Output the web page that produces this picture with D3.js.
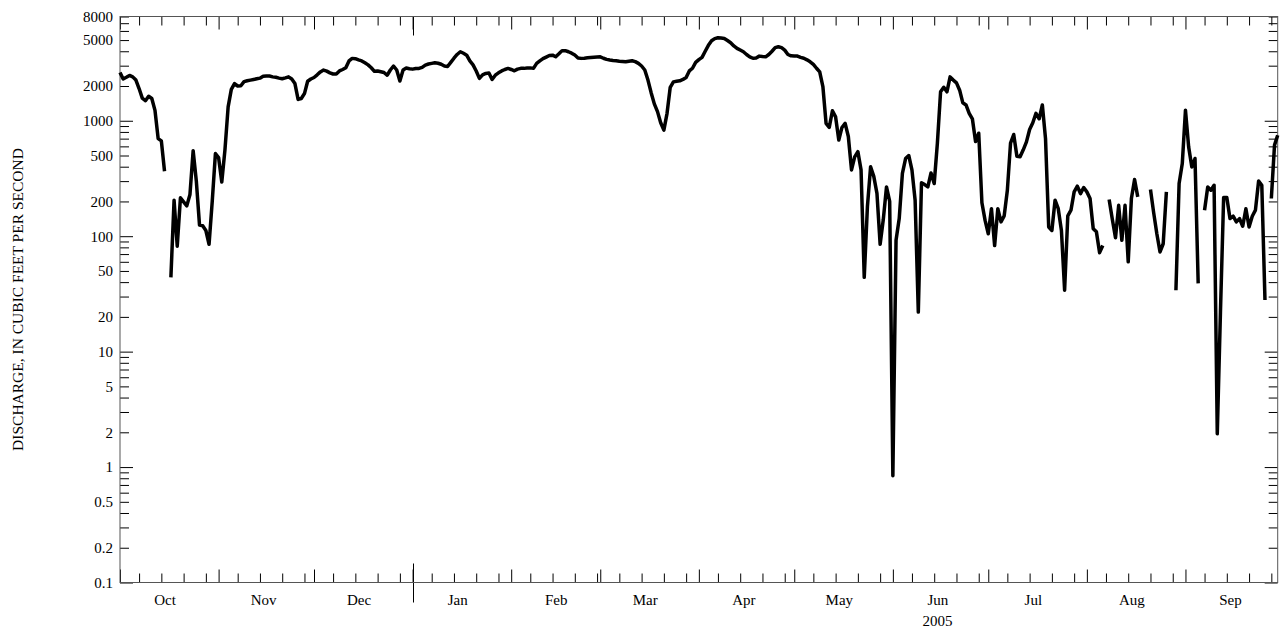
<!DOCTYPE html>
<html>
<head>
<meta charset="utf-8">
<script src="https://cdn.jsdelivr.net/npm/d3@7"></script>
<style>
  body { margin: 0; background: #fff; }
  svg { display: block; }
</style>
</head>
<body>
<svg id="chart" width="1283" height="635"></svg>
<script>
// Daily mean discharge, water year Oct 2004 - Sep 2005 (null = no record)
const startDate = Date.UTC(2004, 9, 1);
const endDate = Date.UTC(2005, 8, 30);

const octQ = [2620, 2300, 2380, 2470, 2400, 2250, 1900, 1570, 1490, 1630, 1560, 1230, 700, 670, 365, null,
  44, 205, 82, 215, 198, 183, 230, 550, 300, 125, 123, 112, 85, 200, 520];
const novQ = [480, 295, 560, 1320, 1870, 2100, 2000, 2010, 2180, 2220, 2250, 2280, 2310, 2340, 2430,
  2440, 2440, 2400, 2380, 2340, 2310, 2350, 2400, 2300, 2100, 1530, 1560, 1720, 2200, 2300];
const decQ = [2370, 2500, 2650, 2750, 2690, 2600, 2540, 2540, 2700, 2780, 2880, 3300, 3470, 3450, 3370,
  3300, 3180, 3050, 2880, 2680, 2700, 2660, 2620, 2480, 2750, 2980, 2750, 2210, 2750, 2860, 2820];
const janQ = [2800, 2840, 2840, 2900, 3035, 3100, 3140, 3180, 3150, 3085, 2980, 2950, 3200, 3480, 3750,
  3960, 3840, 3700, 3300, 3050, 2700, 2330, 2500, 2570, 2590, 2280, 2480, 2600, 2700, 2780, 2840];
const febQ = [2780, 2710, 2800, 2843, 2843, 2860, 2870, 2843, 3140, 3300, 3450, 3560, 3680, 3700,
  3580, 3800, 4050, 4050, 3960, 3850, 3710, 3500, 3470, 3480, 3510, 3530, 3550, 3570];
const marQ = [3580, 3480, 3400, 3360, 3330, 3310, 3280, 3260, 3243, 3280, 3309, 3250, 3140, 2980, 2750,
  2250, 1750, 1400, 1200, 960, 830, 1160, 1950, 2170, 2200, 2220, 2280, 2370, 2700, 2850, 3200];
const aprQ = [3380, 3540, 4000, 4500, 4930, 5150, 5240, 5200, 5150, 4950, 4740, 4450, 4240, 4100, 3960,
  3750, 3580, 3480, 3500, 3630, 3600, 3580, 3750, 4000, 4300, 4380, 4300, 4090, 3750, 3650];
const mayQ = [3640, 3630, 3540, 3480, 3370, 3240, 3080, 2850, 2650, 1980, 950, 875, 1220, 1080, 680,
  875, 950, 730, 375, 487, 540, 375, 44, 180, 400, 330, 235, 85, 140, 267, 200];
const junQ = [0.84, 92, 142, 350, 470, 500, 375, 205, 22, 290, 280, 267, 353, 286, 640,
  1780, 1950, 1780, 2400, 2250, 2130, 1840, 1430, 1370, 1160, 1040, 660, 780, 195, 137];
const julQ = [105, 173, 83, 173, 133, 150, 250, 640, 760, 493, 487, 560, 656, 840, 960,
  1160, 1040, 1370, 700, 120, 112, 205, 173, 112, 34, 150, 168, 242, 271, 234, 264];
const augQ = [242, 212, 116, 109, 72, 83, null, 208, 140, 97, 185, 92, 185, 60, 212,
  310, 219, null, null, null, 254, 160, 105, 73, 86, 242, null, null, 34, 286, 426];
const sepQ = [1236, 594, 398, 471, 39, null, 168, 267, 250, 276, 1.94, 22, 216, 216, 142,
  149, 133, 142, 122, 173, 120, 149, 168, 301, 276, 28, null, 212, 615, 750];

const monthLabels = ["Oct", "Nov", "Dec", "Jan", "Feb", "Mar", "Apr", "May", "Jun", "Jul", "Aug", "Sep"];
const yTickLabels = [0.1, 0.2, 0.5, 1, 2, 5, 10, 20, 50, 100, 200, 500, 1000, 2000, 5000, 8000];
const yearLabel = "2005";
const yTitle = "DISCHARGE, IN CUBIC FEET PER SECOND";

const daily = [octQ, novQ, decQ, janQ, febQ, marQ, aprQ, mayQ, junQ, julQ, augQ, sepQ]
  .flat()
  .map((v, i) => ({ date: d3.utcDay.offset(new Date(startDate), i), v }));

const FONT = "'Liberation Serif', 'Times New Roman', Times, serif";
const L = 120, R = 1277.7, T = 16.5, B = 582.5;

const svg = d3.select("#chart");

const x = d3.scaleUtc().domain([new Date(startDate), new Date(endDate)]).range([L, R]);
const y = d3.scaleLog().domain([0.1, 8000]).range([B, T]);

// tick sets
const decades = [0.1, 1, 10, 100, 1000];
const minorY = [];
for (let e = -1; e <= 3; e++) {
  for (let k = 2; k <= 9; k++) {
    const v = +(k * Math.pow(10, e)).toPrecision(3);
    if (v <= 8000) minorY.push(v);
  }
}
const months = d3.utcMonth.range(new Date(startDate), d3.utcDay.offset(new Date(endDate), 1));
const weekly = [];
months.forEach(m => {
  [7, 14, 21, 28].forEach(d => {
    const t = new Date(Date.UTC(m.getUTCFullYear(), m.getUTCMonth(), d));
    if (t <= endDate) weekly.push(t);
  });
});
const midMonths = months.map(m => new Date(Date.UTC(m.getUTCFullYear(), m.getUTCMonth(), 15)));
const yearStart = new Date(Date.UTC(2005, 0, 1));

function place(axis, tx, ty) {
  const g = svg.append("g").attr("transform", `translate(${tx},${ty})`).call(axis);
  g.select(".domain").remove();
  g.selectAll(".tick line").attr("stroke", "#000");
  g.selectAll(".tick text")
    .attr("font-family", FONT)
    .attr("font-size", 15)
    .attr("fill", "#000");
  return g;
}

// left & right y ticks (pointing inward)
place(d3.axisLeft(y).tickValues(minorY).tickSize(-9).tickFormat(""), L, 0);
place(d3.axisLeft(y).tickValues(decades).tickSize(-13).tickFormat(""), L, 0);
place(d3.axisRight(y).tickValues(minorY).tickSize(-9).tickFormat(""), R, 0);
place(d3.axisRight(y).tickValues(decades).tickSize(-13).tickFormat(""), R, 0);
place(d3.axisLeft(y).tickValues(yTickLabels).tickSize(0).tickPadding(7)
  .tickFormat(d3.format("~g")), L, 0);

// bottom & top x ticks (pointing inward)
place(d3.axisBottom(x).tickValues(weekly).tickSize(-9).tickFormat(""), 0, B);
place(d3.axisBottom(x).tickValues(months).tickSize(-13).tickFormat(""), 0, B);
place(d3.axisTop(x).tickValues(weekly).tickSize(-9).tickFormat(""), 0, T);
place(d3.axisTop(x).tickValues(months).tickSize(-13).tickFormat(""), 0, T);
place(d3.axisBottom(x).tickValues(midMonths).tickSize(0).tickPadding(12)
  .tickFormat((d, i) => monthLabels[i]), 0, B);

// calendar-year boundary marks
const xs = Math.round(x(yearStart)) + 0.5;
svg.append("line").attr("x1", xs).attr("x2", xs).attr("y1", B - 19).attr("y2", B + 20)
  .attr("stroke", "#000");
svg.append("line").attr("x1", xs).attr("x2", xs).attr("y1", T).attr("y2", T + 19)
  .attr("stroke", "#000");

// year label under its months
svg.append("text")
  .attr("x", x(new Date(Date.UTC(2005, 5, 15))))
  .attr("y", 625.5)
  .attr("text-anchor", "middle")
  .attr("font-family", FONT)
  .attr("font-size", 15)
  .text(yearLabel);

// plot frame
svg.append("rect")
  .attr("x", L).attr("y", T)
  .attr("width", R - L).attr("height", B - T)
  .attr("fill", "none")
  .attr("stroke", "#555")
  .attr("stroke-width", 1);

// y axis title
svg.append("text")
  .attr("transform", `translate(23,${(T + B) / 2}) rotate(-90)`)
  .attr("text-anchor", "middle")
  .attr("font-family", FONT)
  .attr("font-size", 15.5)
  .text(yTitle);

// discharge hydrograph
const line = d3.line()
  .defined(d => d.v != null)
  .x(d => x(d.date))
  .y(d => y(d.v));

svg.append("path")
  .datum(daily)
  .attr("d", line)
  .attr("fill", "none")
  .attr("stroke", "#000")
  .attr("stroke-width", 3.5)
  .attr("stroke-linejoin", "round");
</script>
</body>
</html>
